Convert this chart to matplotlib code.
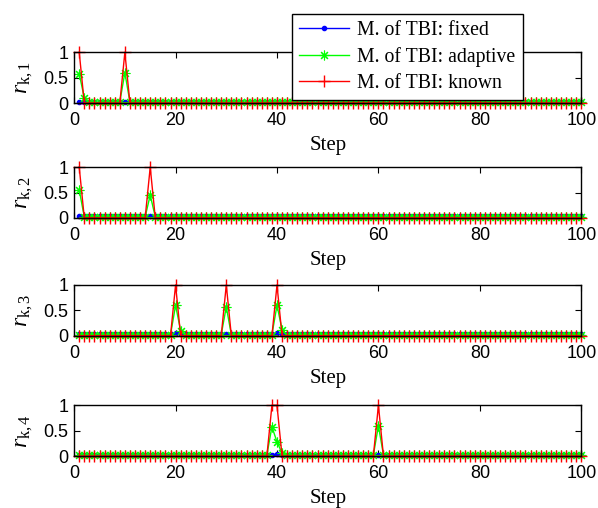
import numpy as np
import matplotlib
matplotlib.use('Agg')
import matplotlib.pyplot as plt

plt.rcParams['font.family'] = ['Liberation Sans', 'DejaVu Sans']
plt.rcParams['mathtext.fontset'] = 'custom'
plt.rcParams['mathtext.it'] = 'Liberation Serif:italic'
plt.rcParams['mathtext.rm'] = 'Liberation Serif'
plt.rcParams['mathtext.sf'] = 'Liberation Sans'

# 数据：步数 1..100，基线值 + 峰值
steps = np.arange(1, 101)
fixed_base = 0.03
adaptive_base = 0.02
known_base = 0.0

# 每个子图的峰值 {step: value}
fixed_peaks = [{}, {}, {20: 0.05, 40: 0.05}, {40: 0.04}]
adaptive_peaks = [
    {1: 0.58, 2: 0.1, 10: 0.6},
    {1: 0.55, 15: 0.45},
    {20: 0.6, 21: 0.1, 30: 0.57, 40: 0.6, 41: 0.12},
    {39: 0.58, 40: 0.28, 41: 0.06, 60: 0.6},
]
known_peaks = [
    {1: 1.0, 10: 1.0},
    {1: 1.0, 15: 1.0},
    {20: 1.0, 30: 1.0, 40: 1.0},
    {39: 1.0, 40: 1.0, 60: 1.0},
]
ylabels = [r'$r_{\mathrm{k,1}}$', r'$r_{\mathrm{k,2}}$', r'$r_{\mathrm{k,3}}$', r'$r_{\mathrm{k,4}}$']
legend_labels = ['M. of TBI: fixed', 'M. of TBI: adaptive', 'M. of TBI: known']


def series(base, peaks):
    y = np.full(len(steps), base, dtype=float)
    for k, v in peaks.items():
        y[k - 1] = v
    return y


fig = plt.figure(figsize=(5.98, 5.08), dpi=100)
bottoms = [0.797, 0.571, 0.339, 0.102]
handles = None
for i in range(4):
    ax = fig.add_axes([0.124, bottoms[i], 0.848, 0.100])
    h1, = ax.plot(steps, series(fixed_base, fixed_peaks[i]), color='#0000ff', marker='.',
                  markersize=6, linewidth=1, clip_on=False)
    h2, = ax.plot(steps, series(adaptive_base, adaptive_peaks[i]), color='#00ff00',
                  marker=(8, 2, 0), markersize=7, markeredgewidth=0.8, linewidth=1,
                  clip_on=False)
    h3, = ax.plot(steps, series(known_base, known_peaks[i]), color='#ff0000', marker='+',
                  markersize=8, markeredgewidth=1, linewidth=1, clip_on=False)
    handles = [h1, h2, h3]
    ax.set_xlim(0, 100)
    ax.set_ylim(0, 1)
    ax.set_xticks([0, 20, 40, 60, 80, 100])
    ax.set_yticks([0, 0.5, 1])
    ax.set_yticklabels(['0', '0.5', '1'])
    ax.tick_params(direction='in', top=True, right=True, labelsize=13, length=4)
    ax.tick_params(axis='x', pad=6.5)
    ax.tick_params(axis='y', pad=4)
    ax.set_xlabel('Step', fontsize=15, family='Liberation Serif', labelpad=5)
    ax.set_ylabel(ylabels[i], fontsize=17, labelpad=6)
    for s in ax.spines.values():
        s.set_linewidth(1)

leg = fig.legend(handles, legend_labels, loc='upper left', bbox_to_anchor=(0.488, 0.973),
                 prop={'family': 'Liberation Serif', 'size': 14.2}, fancybox=False,
                 edgecolor='black', framealpha=1, handlelength=2.5, borderpad=0.38,
                 labelspacing=0.35, handletextpad=0.45, borderaxespad=0)
leg.get_frame().set_linewidth(1)

plt.savefig('out.png', dpi=100)
